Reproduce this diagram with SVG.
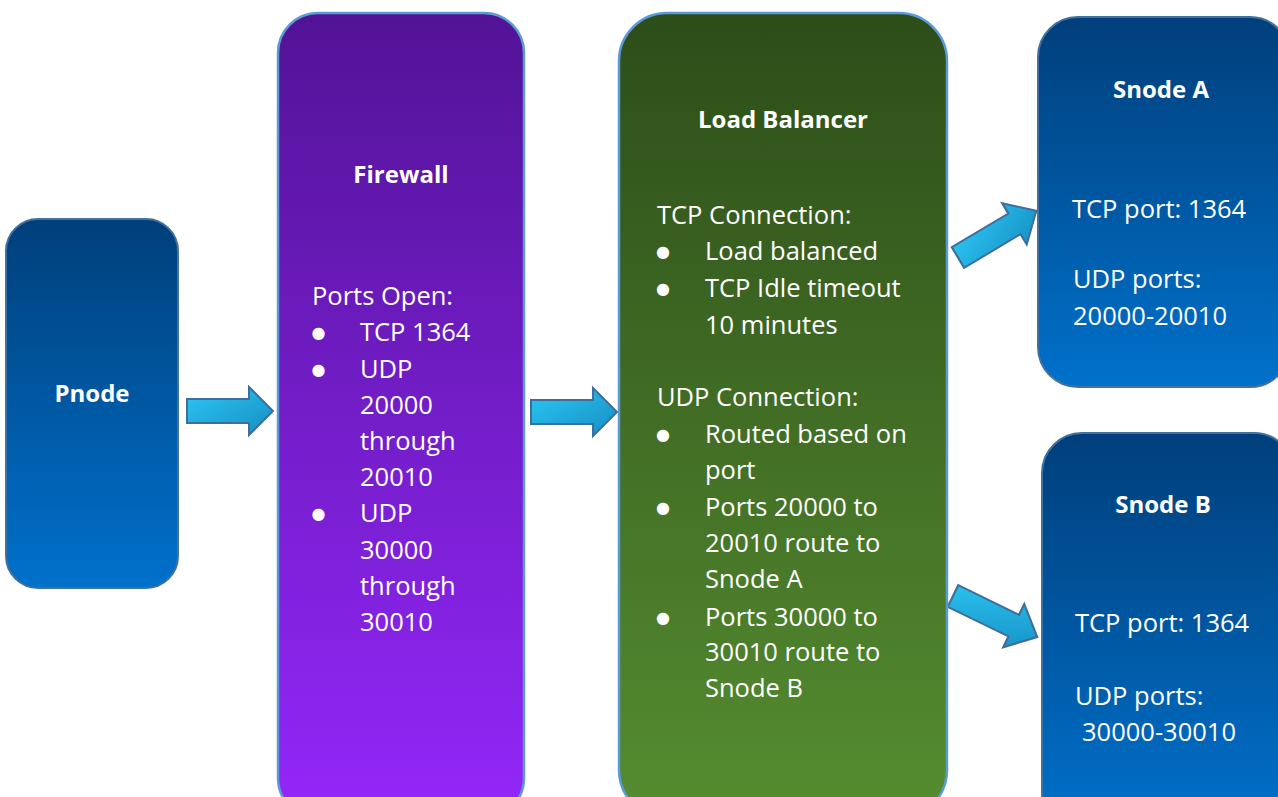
<svg xmlns="http://www.w3.org/2000/svg" width="1278" height="797" viewBox="0 0 1278 797">
<style>
  text { font-family: "Open Sans", Lato, "Liberation Sans", sans-serif; fill: #ffffff; }
  .t { font-size: 24px; font-weight: bold; }
  .b { font-size: 25.5px; }
  .bul { font-family: "DejaVu Sans", sans-serif; font-size: 16px; text-anchor: middle; }
  .mid { text-anchor: middle; }
  .blue { fill: url(#gBlue); stroke: #41719C; stroke-width: 2; }
  .fw { fill: url(#gPurple); stroke: #5B9BD5; stroke-width: 2.5; }
  .lb { fill: url(#gGreen); stroke: #5B9BD5; stroke-width: 2.5; }
  .arr { fill: url(#gArrow); stroke: #3F6E9E; stroke-width: 2; stroke-linejoin: miter; }
</style>
<defs>
  <linearGradient id="gBlue" x1="0" y1="0" x2="0" y2="1">
    <stop offset="0" stop-color="#003F7B"/>
    <stop offset="1" stop-color="#0071CB"/>
  </linearGradient>
  <linearGradient id="gPurple" x1="0" y1="0" x2="0" y2="1">
    <stop offset="0" stop-color="#521396"/>
    <stop offset="1" stop-color="#9427FA"/>
  </linearGradient>
  <linearGradient id="gGreen" x1="0" y1="0" x2="0" y2="1">
    <stop offset="0" stop-color="#2D4D19"/>
    <stop offset="1" stop-color="#558D30"/>
  </linearGradient>
  <linearGradient id="gArrow" x1="0" y1="0" x2="1" y2="1">
    <stop offset="0" stop-color="#2CC8F4"/>
    <stop offset="1" stop-color="#168DC2"/>
  </linearGradient>
  <path id="arrowShape" d="M0,-12 L62,-12 L62,-24 L86,0 L62,24 L62,12 L0,12 Z"/>
</defs>

<g id="connectors">
  <use href="#arrowShape" class="arr" transform="translate(187,411)"/>
  <use href="#arrowShape" class="arr" transform="translate(531,412)"/>
  <use href="#arrowShape" class="arr" transform="translate(958,257.5) rotate(-30.8) scale(1.06,1)"/>
  <use href="#arrowShape" class="arr" transform="translate(953,596) rotate(26) scale(1.09,1)"/>
</g>

<g id="pnode">
  <rect class="blue" x="6" y="219" width="172" height="369" rx="32" ry="32"/>
  <text class="t mid" x="92" y="402">Pnode</text>
</g>

<g id="firewall">
  <rect class="fw" x="278" y="13" width="246" height="805" rx="40" ry="40"/>
  <text class="t mid" x="401" y="183">Firewall</text>
  <text class="b" x="312" y="305">Ports Open:</text>
  <text class="bul" x="318.5" y="338">●</text>
  <text class="b" x="360" y="341">TCP 1364</text>
  <text class="bul" x="318.5" y="375">●</text>
  <text class="b" x="360" y="378">UDP</text>
  <text class="b" x="360" y="414">20000</text>
  <text class="b" x="360" y="450">through</text>
  <text class="b" x="360" y="486">20010</text>
  <text class="bul" x="318.5" y="519">●</text>
  <text class="b" x="360" y="522">UDP</text>
  <text class="b" x="360" y="559">30000</text>
  <text class="b" x="360" y="595">through</text>
  <text class="b" x="360" y="631">30010</text>
</g>

<g id="loadbalancer">
  <rect class="lb" x="619" y="13" width="328" height="805" rx="48" ry="48"/>
  <text class="t mid" x="783" y="128">Load Balancer</text>
  <text class="b" x="657" y="224">TCP Connection:</text>
  <text class="bul" x="663" y="257">●</text>
  <text class="b" x="705" y="260">Load balanced</text>
  <text class="bul" x="663" y="294">●</text>
  <text class="b" x="705" y="297">TCP Idle timeout</text>
  <text class="b" x="705" y="334">10 minutes</text>
  <text class="b" x="657" y="406">UDP Connection:</text>
  <text class="bul" x="663" y="440">●</text>
  <text class="b" x="705" y="443">Routed based on</text>
  <text class="b" x="705" y="479">port</text>
  <text class="bul" x="663" y="513">●</text>
  <text class="b" x="705" y="516">Ports 20000 to</text>
  <text class="b" x="705" y="552">20010 route to</text>
  <text class="b" x="705" y="588">Snode A</text>
  <text class="bul" x="663" y="623">●</text>
  <text class="b" x="705" y="626">Ports 30000 to</text>
  <text class="b" x="705" y="661">30010 route to</text>
  <text class="b" x="705" y="697">Snode B</text>
</g>

<g id="snodeA">
  <rect class="blue" x="1038" y="17" width="252" height="370" rx="40" ry="40"/>
  <text class="t mid" x="1161" y="98">Snode A</text>
  <text class="b" x="1072" y="218">TCP port: 1364</text>
  <text class="b" x="1073" y="288">UDP ports:</text>
  <text class="b" x="1073" y="325">20000-20010</text>
</g>

<g id="snodeB">
  <rect class="blue" x="1042" y="433" width="252" height="400" rx="40" ry="40"/>
  <text class="t mid" x="1163" y="513">Snode B</text>
  <text class="b" x="1075" y="632">TCP port: 1364</text>
  <text class="b" x="1075" y="705">UDP ports:</text>
  <text class="b" x="1082" y="741">30000-30010</text>
</g>
</svg>
